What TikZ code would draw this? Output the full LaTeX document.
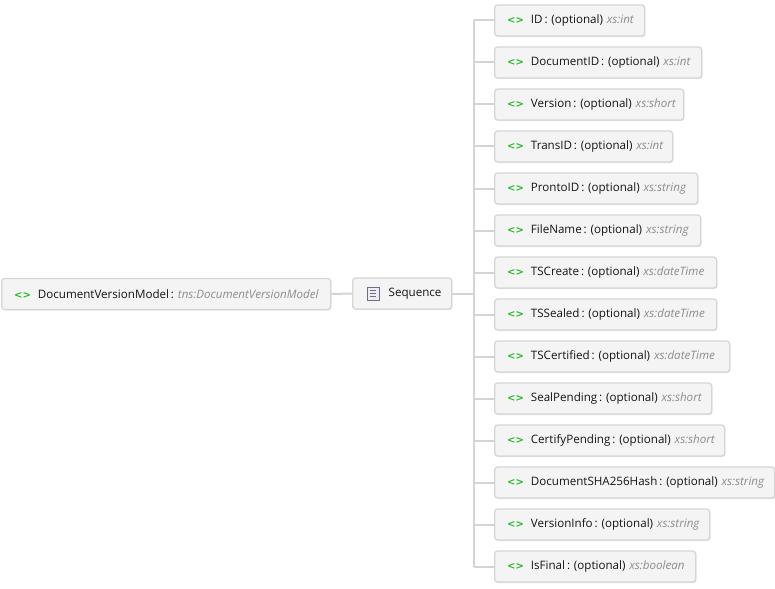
\documentclass[tikz,border=0pt]{standalone}
\usepackage{fontspec}
\setmainfont{Open Sans}
\newfontfamily\tagfont{DejaVu Sans}
\usetikzlibrary{shadows}
\definecolor{boxfill}{HTML}{F4F4F4}
\definecolor{boxline}{HTML}{D6D6D6}
\definecolor{wire}{HTML}{D4D4D4}
\definecolor{tag}{HTML}{22BB22}
\definecolor{ink}{HTML}{141414}
\definecolor{typ}{HTML}{8C8C8C}
\definecolor{seqline}{HTML}{6E6E80}
\definecolor{seqfill}{HTML}{ECECF2}
\newcommand{\elemtag}{{\tagfont\bfseries\fontsize{10}{11}\selectfont\color{tag}<>}\hspace{7pt}}
\newcommand{\typtxt}[1]{{\itshape\color{typ}#1}}
\tikzset{
  elembox/.style={draw=boxline, fill=boxfill, rounded corners=3pt, line width=1.3pt,
    minimum height=31pt, inner xsep=12.5pt, inner ysep=0pt, anchor=west, align=left,
    text=ink, font=\fontsize{11.6}{13}\selectfont,
    drop shadow={shadow xshift=0.8pt, shadow yshift=-1pt, opacity=0.12, fill=black}},
  wireline/.style={draw=wire, line width=2pt}
}
\begin{document}
\begin{tikzpicture}[x=1pt,y=-1pt]
\useasboundingbox (0,0) rectangle (775,588);
% root and sequence
\node[elembox, text width=304pt] (root) at (1,294) {\mbox{\elemtag DocumentVersionModel\,:\ \typtxt{tns:DocumentVersionModel}}};
\node[elembox, text width=69pt, inner xsep=15pt] (seq) at (352,293.5) {\mbox{\hspace{21pt}Sequence}};
% sequence icon
\draw[seqline, fill=seqfill, line width=0.8pt] ([xshift=15pt,yshift=6.5pt]seq.west) rectangle ++(12,13);
\foreach \dy in {-3,0,3}
  \draw[seqline, line width=0.8pt] ([xshift=18pt,yshift=\dy pt]seq.west) -- ++(6,0);
% children
\foreach \n/\w/\name/\t [count=\i from 0] in {
  c1/125/ID/int,
  c2/182/DocumentID/int,
  c3/164/Version/short,
  c4/153/TransID/int,
  c5/178/ProntoID/string,
  c6/181/FileName/string,
  c7/197/TSCreate/dateTime,
  c8/197/TSSealed/dateTime,
  c9/210/TSCertified/dateTime,
  c10/192/SealPending/short,
  c11/205/CertifyPending/short,
  c12/255/DocumentSHA256Hash/string,
  c13/190/VersionInfo/string,
  c14/176/IsFinal/boolean}
{
  \node[elembox, text width=\w pt] (\n) at (494,20.5+42*\i) {\mbox{\elemtag \name\,:\ (optional) \typtxt{xs:\t}}};
}
% connectors
\draw[wireline] (root.east) -- (seq.west);
\draw[wireline] (seq.east) -- ++(21.5,0) coordinate (bus);
\draw[wireline] (bus |- c1.west) -- (bus |- c14.west);
\foreach \n in {c1,c2,c3,c4,c5,c6,c7,c8,c9,c10,c11,c12,c13,c14}
  \draw[wireline] (bus |- \n.west) -- (\n.west);
\end{tikzpicture}
\end{document}
